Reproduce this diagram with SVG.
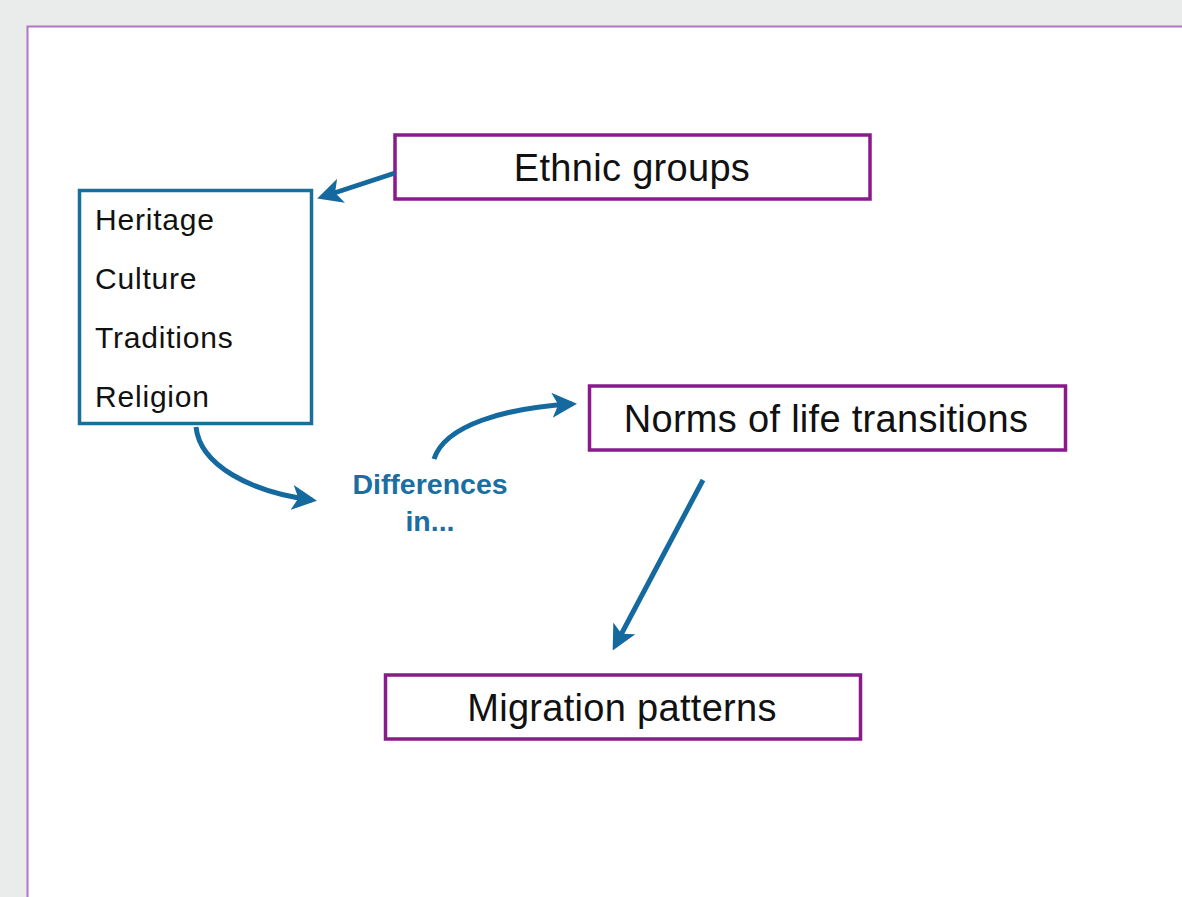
<svg xmlns="http://www.w3.org/2000/svg" width="1182" height="897" viewBox="0 0 1182 897">
<style>
.node{fill:#fff;stroke-width:3.5}
.p{stroke:#8a1a8c}
.b{stroke:#1a6e9c}
.t{font-family:"Liberation Sans",Arial,sans-serif;fill:#111}
.big{font-size:38px;text-anchor:middle;letter-spacing:0.3px}
.lst{font-size:30px;letter-spacing:0.8px}
.conn{fill:none;stroke:#14699e;stroke-width:5}
.lbl{font-family:"Liberation Sans",Arial,sans-serif;font-weight:bold;font-size:28.5px;fill:#1a6ea2;text-anchor:middle}
</style>
<defs>
<marker id="ah" viewBox="0 0 10 10" refX="8" refY="5" markerWidth="5" markerHeight="5" orient="auto" markerUnits="strokeWidth">
<path d="M0,0 L10,5 L0,10 L2.5,5 z" fill="#14699e"/>
</marker>
</defs>
<rect x="0" y="0" width="1182" height="897" fill="#e9ecea"/>
<rect x="27.5" y="26.5" width="1170" height="890" fill="#fff" stroke="#b274c4" stroke-width="2"/>
<g id="ethnic">
<rect class="node p" x="395" y="135" width="475" height="64"/>
<text class="t big" x="632" y="181">Ethnic groups</text>
</g>
<g id="list">
<rect class="node b" x="79.5" y="190.5" width="232" height="233"/>
<text class="t lst" x="95" y="230">Heritage</text>
<text class="t lst" x="95" y="289">Culture</text>
<text class="t lst" x="95" y="348">Traditions</text>
<text class="t lst" x="95" y="407">Religion</text>
</g>
<g id="norms">
<rect class="node p" x="589.5" y="386" width="476" height="64"/>
<text class="t big" x="826" y="432">Norms of life transitions</text>
</g>
<g id="migration">
<rect class="node p" x="385.5" y="675" width="475" height="64"/>
<text class="t big" x="622" y="721">Migration patterns</text>
</g>
<g id="differences">
<text class="lbl" x="430" y="494">Differences</text>
<text class="lbl" x="430" y="531">in...</text>
</g>
<g id="connectors">
<path class="conn" d="M395,173 L322,197" marker-end="url(#ah)"/>
<path class="conn" d="M196,427 C200,465 250,492 312,500" marker-end="url(#ah)"/>
<path class="conn" d="M434,459 C445,425 505,408 572,404" marker-end="url(#ah)"/>
<path class="conn" d="M703,480 L615,646" marker-end="url(#ah)"/>
</g>
</svg>
